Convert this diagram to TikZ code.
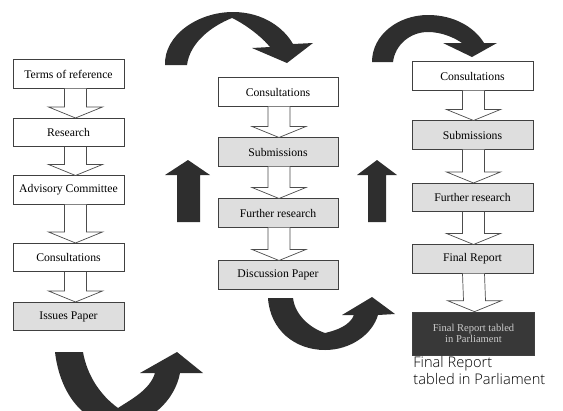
\documentclass[tikz,border=0pt]{standalone}
\usepackage{fontspec}
\setmainfont{Liberation Serif}
\newfontfamily\handfont{Open Sans Light}
\usetikzlibrary{calc}

\tikzset{
    stage/.style={draw=black!75, fill=white, line width=0.6pt, inner sep=1pt, minimum height=0.85cm, font=\fontsize{10}{12}\selectfont},
    shaded/.style={stage, fill=black!13},
    hollow/.style={draw=black!70, fill=white, line width=0.6pt},
    solidarrow/.style={fill=black!82, draw=none},
}

\newcommand{\hollowarrow}[3][0]{
    \draw[hollow] ($(#2.south)+(#1-11,0)$) -- ($(#3.north)+(#1-11,-11)$) -- ($(#3.north)+(#1-27,-11)$)
        -- ($(#3.north)+(#1,0)$) -- ($(#3.north)+(#1+27,-11)$) -- ($(#3.north)+(#1+11,-11)$) -- ($(#2.south)+(#1+11,0)$);
}

\begin{document}
\begin{tikzpicture}[x=0.03cm, y=-0.03cm]
            \useasboundingbox (0, 0) rectangle (563, 410);
            \clip (0, 0) rectangle (563, 410);

            \node[stage, minimum width=3.33cm] (terms) at (68.5, 74) {Terms of reference};
            \node[stage, minimum width=3.33cm] (research) at (68.5, 132.5) {Research};
            \node[stage, minimum width=3.33cm] (advisory) at (68.5, 190) {Advisory Committee};
            \node[stage, minimum width=3.33cm] (consultA) at (68.5, 257.5) {Consultations};
            \node[shaded, minimum width=3.33cm] (issues) at (68.5, 316.5) {Issues Paper};

            \node[stage, minimum width=3.6cm] (consultB) at (278, 92) {Consultations};
            \node[shaded, minimum width=3.6cm] (submitB) at (278, 152) {Submissions};
            \node[shaded, minimum width=3.6cm] (furtherB) at (278, 213) {Further research};
            \node[shaded, minimum width=3.6cm] (discussion) at (278, 275) {Discussion Paper};

            \node[stage, minimum width=3.63cm] (consultC) at (472.5, 76) {Consultations};
            \node[shaded, minimum width=3.63cm] (submitC) at (472.5, 135) {Submissions};
            \node[shaded, minimum width=3.63cm] (furtherC) at (472.5, 197.5) {Further research};
            \node[shaded, minimum width=3.63cm] (finalrep) at (472.5, 259) {Final Report};
            \node[stage, fill=black!78, text=black!20, minimum width=3.66cm, minimum height=1.29cm, align=center, font=\fontsize{9}{10}\selectfont] (tabled) at (473.5, 333.5) {Final Report tabled\\in Parliament};
            \node[anchor=north west, align=left, inner sep=0pt, font=\handfont\fontsize{12.5}{14}\selectfont] (handnote) at ($(tabled.south west)+(1, 1)$) {Final Report\\tabled in Parliament};

            \hollowarrow[7]{terms}{research}
            \hollowarrow[7]{research}{advisory}
            \hollowarrow[7]{advisory}{consultA}
            \hollowarrow[7]{consultA}{issues}
            \hollowarrow[1]{consultB}{submitB}
            \hollowarrow[1]{submitB}{furtherB}
            \hollowarrow[1]{furtherB}{discussion}
            \hollowarrow[1]{consultC}{submitC}
            \hollowarrow[1]{submitC}{furtherC}
            \hollowarrow[1]{furtherC}{finalrep}
            \hollowarrow[1]{finalrep}{tabled}

            \fill[solidarrow] (177, 222) -- (177, 175) -- (165, 175) -- (188, 160) -- (210, 175) -- (200, 175) -- (200, 222) -- cycle;
            \fill[solidarrow] (368, 222) -- (368, 175) -- (357, 175) -- (377, 160) -- (397, 175) -- (386, 175) -- (386, 222) -- cycle;

            \fill[solidarrow] (165, 65) .. controls (164, 35) and (198, 12) .. (233, 12) .. controls (263, 12) and (284, 28) .. (293, 44)
                -- (313, 43) -- (287, 63) -- (252, 48) -- (270, 47) .. controls (262, 37) and (245, 24) .. (232, 18)
                .. controls (212, 26) and (190, 42) .. (187, 65) -- cycle;
            \fill[solidarrow] (372, 62) .. controls (372, 35) and (398, 15) .. (428, 15) .. controls (455, 15) and (475, 28) .. (484, 43)
                -- (497, 43) -- (472, 57) -- (443, 43) -- (462, 43) .. controls (455, 38) and (442, 32) .. (428, 32)
                .. controls (410, 32) and (395, 45) .. (393, 62) -- cycle;
            \fill[solidarrow] (55, 352) .. controls (60, 395) and (85, 425) .. (118, 425) .. controls (150, 425) and (175, 400) .. (180, 373)
                -- (203, 373) -- (177, 352) -- (140, 373) -- (155, 373) .. controls (150, 390) and (130, 400) .. (118, 408)
                .. controls (100, 395) and (87, 375) .. (83, 352) -- cycle;
            \fill[solidarrow] (268, 298) .. controls (270, 330) and (295, 350) .. (325, 350) .. controls (350, 350) and (372, 335) .. (378, 315)
                -- (395, 314) -- (372, 297) -- (342, 315) -- (354, 315) .. controls (350, 325) and (338, 330) .. (325, 333)
                .. controls (310, 328) and (295, 315) .. (293, 298) -- cycle;
        \end{tikzpicture}
\end{document}
